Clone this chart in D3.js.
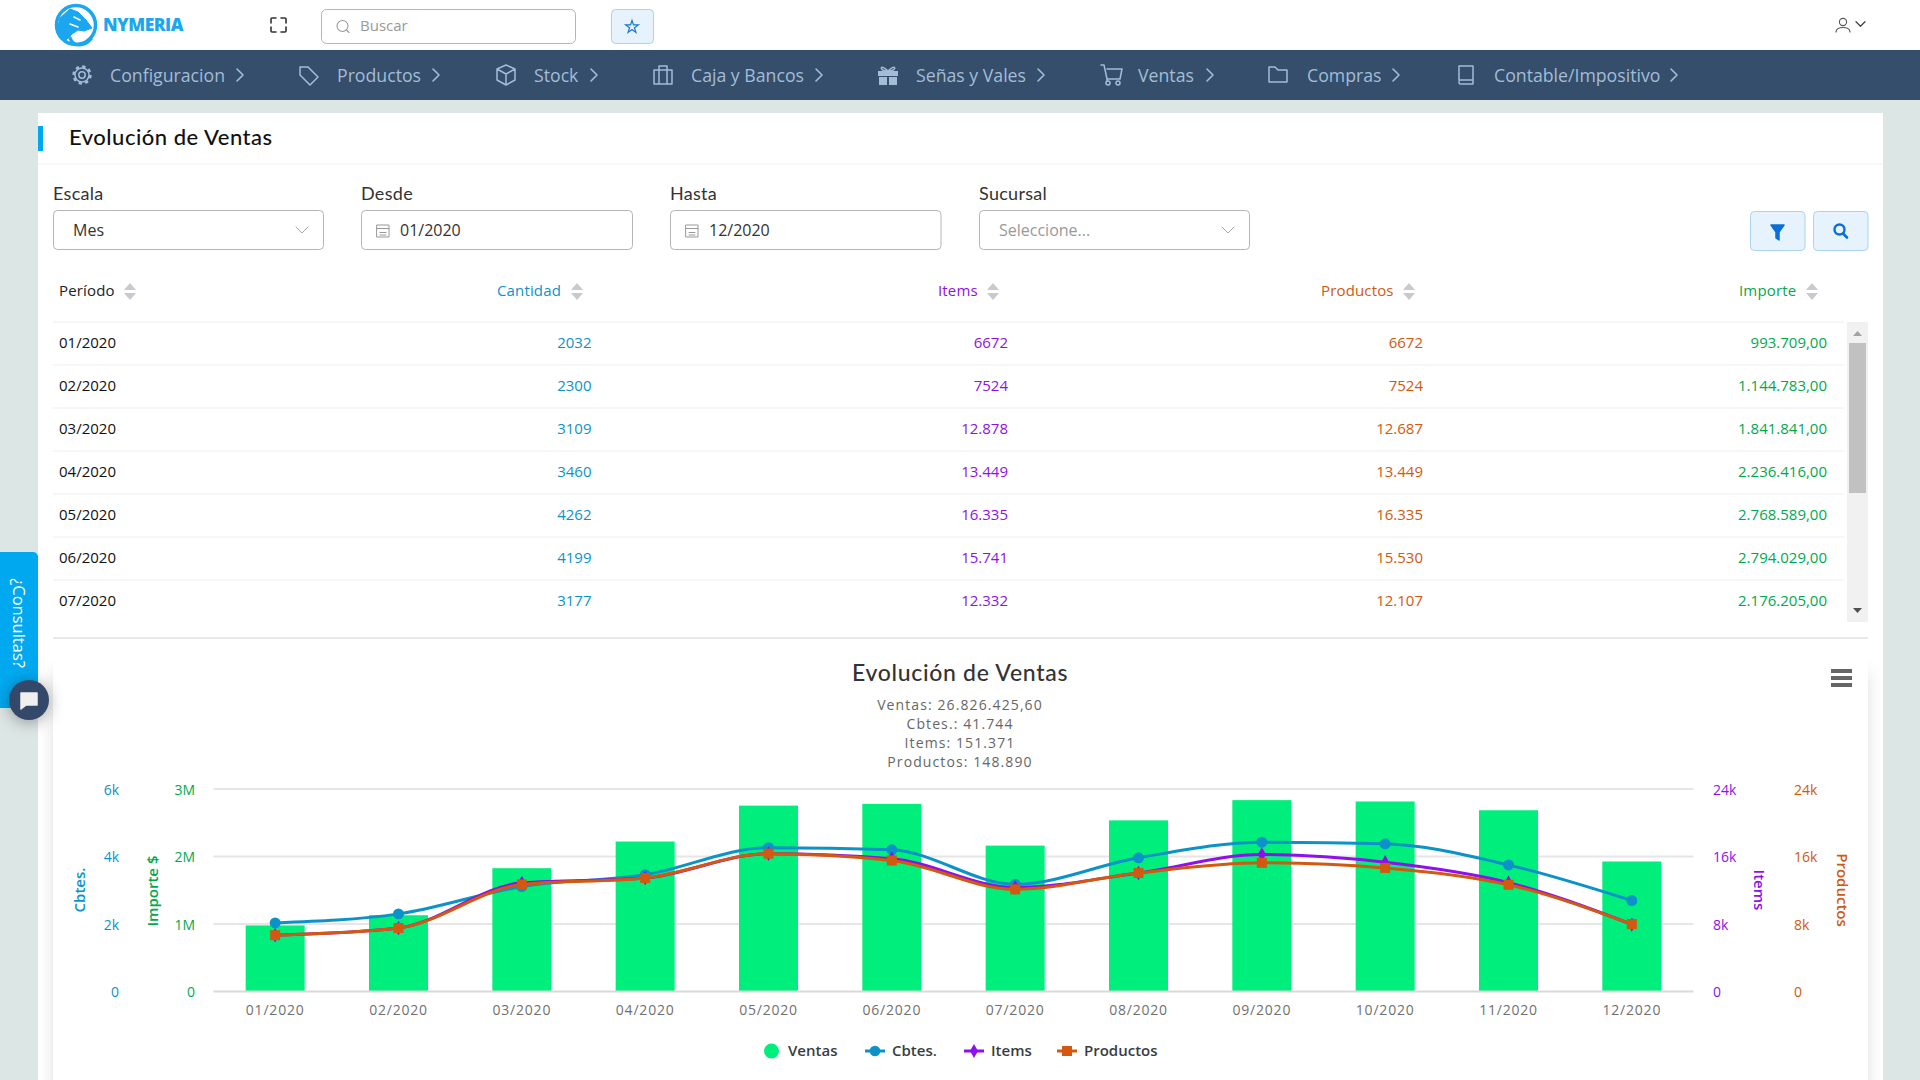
<!DOCTYPE html>
<html>
<head>
<meta charset="utf-8">
<script src="https://cdn.jsdelivr.net/npm/d3@7/dist/d3.min.js"></script>
<style>
html, body { margin:0; padding:0; background:#dce6e5; overflow:hidden; }
svg { display:block; }
text { font-family:"Open Sans", sans-serif; }
.eje .domain, .eje line { display:none; }
</style>
</head>
<body>
<div id="pantalla"></div>
<script>
// Datos de la tabla y del grafico
var periodos = ["01/2020","02/2020","03/2020","04/2020","05/2020","06/2020","07/2020","08/2020","09/2020","10/2020","11/2020","12/2020"];
var ventas = [993709,1144783,1841841,2236416,2768589,2794029,2176205,2550000,2850000,2830000,2700000,1940853.6];
var cbtes = [2032,2300,3109,3460,4262,4199,3177,3960,4425,4375,3750,2695];
var items = [6672,7524,12878,13449,16335,15741,12332,14050,16230,15310,12900,7950];
var productos = [6672,7524,12687,13449,16335,15530,12107,14050,15250,14650,12650,7986];

var ticksVentas = [0,1000000,2000000,3000000];
var ticksCbtes = [0,2000,4000,6000];
var ticksItems = [0,8000,16000,24000];

var menuNav = ["Configuracion","Productos","Stock","Caja y Bancos","Señas y Vales","Ventas","Compras","Contable/Impositivo"];
var menuIconoX = [82,309,506,663,888,1111,1278,1466];
var menuTextoX = [110,337,534,691,916,1138,1307,1494];
var menuFlechaX = [240,436,594,819,1041,1210,1396,1674];

var colVentas = "#00ee7c", colImporte = "#00a94f", colCbtes = "#0b93c9", colItems = "#8f10ea", colProductos = "#d2590f";
var colNav = "#344e6b", colCeleste = "#00a9ef";

var loc = d3.formatLocale({decimal:",", thousands:".", grouping:[3], currency:["",""]});
var fmtMiles = loc.format(",d");
var fmtImporte = loc.format(",.2f");
function fmtCant(v){ return v < 10000 ? String(v) : fmtMiles(v); }

var svg = d3.select("#pantalla").append("svg").attr("width",1920).attr("height",1080);

function txt(x, y, s, o){
    o = o || {};
    var t = svg.append("text").attr("x",x).attr("y",y).attr("dy","0.36em").text(s)
        .attr("font-size",o.size || 15).attr("font-weight",o.weight || 400)
        .attr("fill",o.fill || "#222").attr("text-anchor",o.anchor || "start");
    if(o.family) t.style("font-family",o.family);
    if(o.spacing) t.attr("letter-spacing",o.spacing);
    if(o.rot) t.attr("transform","rotate("+o.rot+" "+x+" "+y+")");
    return t;
}
function caja(x, y, w, h, o){
    o = o || {};
    return svg.append("rect").attr("x",x).attr("y",y).attr("width",w).attr("height",h)
        .attr("rx",o.r || 0).attr("fill",o.fill || "#fff").attr("stroke",o.stroke || "none")
        .attr("stroke-width",o.sw || 1);
}
function trazo(d, col, sw, relleno){
    return svg.append("path").attr("d",d).attr("fill",relleno || "none").attr("stroke",col)
        .attr("stroke-width",sw || 1.5).attr("stroke-linecap","round").attr("stroke-linejoin","round");
}
function flecha(x, y, s, col, sw){ // chevron hacia abajo
    trazo("M"+(x-s)+","+(y-s/2)+"L"+x+","+(y+s/2)+"L"+(x+s)+","+(y-s/2), col, sw || 1);
}
function flechaDer(x, y, col){
    trazo("M"+(x-3)+","+(y-6)+"L"+(x+3)+","+y+"L"+(x-3)+","+(y+6), col, 1.6);
}

// ---------- barra superior ----------
caja(0,0,1920,50);
// logo
svg.append("circle").attr("cx",76).attr("cy",25).attr("r",19.5).attr("fill","none").attr("stroke","#1aa7f0").attr("stroke-width",3.5);
trazo("M57,30L60,18L70,9L78,12L86,20L92,28L84,31L78,30L72,34L66,40L60,38Z","#1aa7f0",1,"#1aa7f0");
trazo("M74,17L80,20M70,24L78,27","#fff",1.6);
trazo("M70,38C73,47 84,47 91,39","#1aa7f0",3.4);
txt(103,25,"NYMERIA",{size:17.5,weight:800,fill:"#1aa7f0",spacing:-0.5});
trazo("M271,23V19Q271,18 272,18H276M281,18H285Q286,18 286,19V23M286,27V31Q286,32 285,32H281M276,32H272Q271,32 271,31V27","#333",1.6);
caja(321.5,9.5,254,34,{r:5,stroke:"#b5b5b5"});
svg.append("circle").attr("cx",342.5).attr("cy",26).attr("r",5.5).attr("fill","none").attr("stroke","#999").attr("stroke-width",1.1);
trazo("M346.5,30L349,32.5","#999",1.1);
txt(360,26,"Buscar",{size:15,fill:"#999"});
caja(611.5,9.5,42,34,{r:4,fill:"#e6f3fd",stroke:"#a9d3f0"});
svg.append("path").attr("d",d3.symbol(d3.symbolStar,50)).attr("transform","translate(632,27)").attr("fill","none").attr("stroke","#1b76d3").attr("stroke-width",1.2);
svg.append("circle").attr("cx",1843).attr("cy",22).attr("r",3.6).attr("fill","none").attr("stroke","#555").attr("stroke-width",1.1);
trazo("M1836,32C1836,26 1850,26 1850,32","#555",1.2);
flecha(1860.5,24,4.5,"#444",1.3);

// ---------- menu ----------
caja(0,50,1920,50,{fill:colNav});
var colMenu = "#a4bcd6";
menuNav.forEach(function(m,i){
    txt(menuTextoX[i],75.5,m,{size:17.7,fill:colMenu});
    flechaDer(menuFlechaX[i],75,colMenu);
});
function iconoMenu(i){
    var x = menuIconoX[i], y = 75, g = 1.5;
    if(i==0){
        svg.append("circle").attr("cx",x).attr("cy",y).attr("r",3.2).attr("fill","none").attr("stroke",colMenu).attr("stroke-width",g);
        svg.append("circle").attr("cx",x).attr("cy",y).attr("r",7).attr("fill","none").attr("stroke",colMenu).attr("stroke-width",g);
        svg.append("circle").attr("cx",x).attr("cy",y).attr("r",8.5).attr("fill","none").attr("stroke",colMenu).attr("stroke-width",2.4).attr("stroke-dasharray","3.3 3.37");
    }
    if(i==1) trazo("M"+(x-9)+","+(y-8)+"h8l10,10l-8,8l-10,-10Z",colMenu,g);
    if(i==2) trazo("M"+x+","+(y-10)+"l9,4v11l-9,5l-9,-5v-11ZM"+(x-9)+","+(y-6)+"l9,5l9,-5M"+x+","+(y-1)+"v11",colMenu,g);
    if(i==3) trazo("M"+(x-9)+","+(y-5)+"h18v14h-18ZM"+(x-4)+","+(y-5)+"v14M"+(x+4)+","+(y-5)+"v14M"+(x-4)+","+(y-5)+"v-4h8v4",colMenu,g);
    if(i==4){ caja(x-10,y-4,20,5,{fill:colMenu}); caja(x-9,y+2,8,8,{fill:colMenu}); caja(x+1,y+2,8,8,{fill:colMenu});
        trazo("M"+x+","+(y-4)+"C"+(x-9)+","+(y-13)+" "+(x-9)+","+(y-3)+" "+x+","+(y-4)+"C"+(x+9)+","+(y-13)+" "+(x+9)+","+(y-3)+" "+x+","+(y-4),colMenu,g); }
    if(i==5){ trazo("M"+(x-10)+","+(y-10)+"h3l3,14h13l2,-10h-15M"+(x-4)+","+(y+4)+"v2",colMenu,g);
        svg.append("circle").attr("cx",x-3).attr("cy",y+8).attr("r",2).attr("fill","none").attr("stroke",colMenu).attr("stroke-width",g);
        svg.append("circle").attr("cx",x+7).attr("cy",y+8).attr("r",2).attr("fill","none").attr("stroke",colMenu).attr("stroke-width",g); }
    if(i==6) trazo("M"+(x-9)+","+(y-8)+"h6l3,3h9v12h-18Z",colMenu,g);
    if(i==7) trazo("M"+(x-7)+","+(y+5)+"V"+(y-9)+"h14V"+(y+9)+"h-13q-1,0 -1,-2t1,-2h13",colMenu,g);
}
menuNav.forEach(function(m,i){ iconoMenu(i); });

// ---------- tarjeta ----------
caja(38,113,1845,967);
caja(38,126,5,25,{fill:colCeleste});
svg.append("line").attr("x1",38).attr("x2",1883).attr("y1",164).attr("y2",164).attr("stroke","#eef0f0");
txt(69,137.5,"Evolución de Ventas",{size:22,weight:500,fill:"#111",family:"Lato",spacing:.5});

var campos = [
    {label:"Escala",x:53,w:270,valor:"Mes",icono:false},
    {label:"Desde",x:361,w:271,valor:"01/2020",icono:true},
    {label:"Hasta",x:670,w:270.5,valor:"12/2020",icono:true},
    {label:"Sucursal",x:979,w:270,valor:"Seleccione...",icono:false}
];
campos.forEach(function(c){
    txt(c.x,194,c.label,{size:18,fill:"#333",family:"Lato",spacing:.3});
    caja(c.x+.5,210.5,c.w,39,{r:4,stroke:"#b5b5b5"});
    if(c.icono){
        trazo("M"+(c.x+16)+",225h12v12h-12ZM"+(c.x+16)+",228.5h12M"+(c.x+19)+",232.5h6M"+(c.x+19)+",235h6","#999",1);
        txt(c.x+39,230,c.valor,{size:16,fill:"#333"});
    } else {
        txt(c.x+20,230,c.valor,{size:16,fill:c.label=="Sucursal" ? "#999" : "#333"});
        flecha(c.x+c.w-21,230,6,"#aaa",1);
    }
});
caja(1750.5,211.5,54.5,39,{r:4,fill:"#e6f3fd",stroke:"#a9d3f0"});
caja(1813.5,211.5,54.5,39,{r:4,fill:"#e6f3fd",stroke:"#a9d3f0"});
trazo("M1771,225h13l-5,7v8l-3,-2v-6Z","#0a6fd6",1.5,"#0a6fd6");
svg.append("circle").attr("cx",1839.5).attr("cy",229.5).attr("r",5).attr("fill","none").attr("stroke","#0a6fd6").attr("stroke-width",2.4);
trazo("M1843.5,234L1847,237.5","#0a6fd6",2.6);

// ---------- tabla ----------
var columnas = [
    {titulo:"Período",x:59,orden:130,col:"#222"},
    {titulo:"Cantidad",x:497,orden:577,fin:591.5,col:colCbtes,datos:cbtes,fmt:fmtCant},
    {titulo:"Items",x:938,orden:993,fin:1008,col:colItems,datos:items,fmt:fmtCant},
    {titulo:"Productos",x:1321,orden:1409,fin:1423,col:colProductos,datos:productos,fmt:fmtCant},
    {titulo:"Importe",x:1739,orden:1812,fin:1827,col:colImporte,datos:ventas,fmt:fmtImporte}
];
columnas.forEach(function(c){
    txt(c.x,291,c.titulo,{size:15,weight:500,fill:c.col,spacing:.15});
    svg.append("path").attr("d","M"+(c.orden-6)+",290l6,-7l6,7ZM"+(c.orden-6)+",293l6,7l6,-7Z").attr("fill","#c9c9ce");
});
var filaY = d3.scaleLinear().domain([0,1]).range([343,386]);
d3.range(7).forEach(function(i){
    svg.append("line").attr("x1",53).attr("x2",1844).attr("y1",filaY(i)-21).attr("y2",filaY(i)-21).attr("stroke","#eeeeee");
    txt(59,filaY(i),periodos[i],{size:15,weight:500,fill:"#111"});
    columnas.slice(1).forEach(function(c){
        txt(c.fin,filaY(i),c.fmt(c.datos[i]),{size:15,weight:500,fill:c.col,anchor:"end"});
    });
});
caja(1847,322,21,300,{fill:"#f1f1f1"});
caja(1849,343,17,150,{fill:"#c1c1c1"});
svg.append("path").attr("d","M1853,336l4.5,-5l4.5,5Z").attr("fill","#a3a3a3");
svg.append("path").attr("d","M1853,608l4.5,5l4.5,-5Z").attr("fill","#505050");
svg.append("line").attr("x1",53).attr("x2",1868).attr("y1",638).attr("y2",638).attr("stroke","#e9e9e9").attr("stroke-width",2);

// ---------- bloque del grafico ----------
svg.append("defs").append("filter").attr("id","sombra").attr("x","-5%").attr("y","-10%").attr("width","110%").attr("height","120%")
    .append("feDropShadow").attr("dx",0).attr("dy",0).attr("stdDeviation",8).attr("flood-color","#000").attr("flood-opacity",.12);
caja(53,672,1815,450).attr("filter","url(#sombra)");
caja(53,640,1815,60);

txt(960,673,"Evolución de Ventas",{size:23,weight:500,fill:"#333",anchor:"middle",family:"Lato",spacing:.7});
var resumen = [
    "Ventas: "+fmtImporte(d3.sum(ventas)),
    "Cbtes.: "+fmtMiles(d3.sum(cbtes)),
    "Items: "+fmtMiles(d3.sum(items)),
    "Productos: "+fmtMiles(d3.sum(productos))
];
resumen.forEach(function(r,i){
    txt(960,704.5+i*19,r,{size:14,fill:"#666",anchor:"middle",spacing:1.1});
});
svg.append("path").attr("d","M1831,669h21v4h-21ZM1831,676h21v4h-21ZM1831,683h21v4h-21Z").attr("fill","#666");

var margen = {izq:213.5, der:1693.5, arriba:789, abajo:991.5};
var x = d3.scaleBand().domain(periodos).range([margen.izq,margen.der]);
var yVentas = d3.scaleLinear().domain([0,3000000]).range([margen.abajo,margen.arriba]);
var yCbtes = d3.scaleLinear().domain([0,6000]).range([margen.abajo,margen.arriba]);
var yItems = d3.scaleLinear().domain([0,24000]).range([margen.abajo,margen.arriba]);
var fmtK = function(v){ return v==0 ? "0" : (v/1000)+"k"; };
var fmtM = function(v){ return v==0 ? "0" : (v/1000000)+"M"; };

function lineaGrilla(d, col){
    svg.append("line").attr("x1",margen.izq).attr("x2",margen.der)
        .attr("y1",yVentas(d)).attr("y2",yVentas(d)).attr("stroke",col).attr("stroke-width",2);
}
ticksVentas.filter(function(d){ return d>0; }).forEach(function(d){ lineaGrilla(d,"#e6e6e6"); });

svg.append("g").selectAll("rect").data(periodos).enter().append("rect")
    .attr("x",function(d){ return x(d)+x.bandwidth()/2-29.5; })
    .attr("width",59)
    .attr("y",function(d,i){ return yVentas(ventas[i])+1; })
    .attr("height",function(d,i){ return margen.abajo-yVentas(ventas[i])-1; })
    .attr("fill",colVentas);
lineaGrilla(0,"#d9d9d9");

function ejeY(gen, posX, col){
    var g = svg.append("g").attr("class","eje").attr("transform","translate("+posX+",1)").call(gen);
    g.selectAll("text").attr("fill",col).style("font-size","14px").style("font-family","Open Sans");
}
ejeY(d3.axisLeft(yCbtes).tickValues(ticksCbtes).tickFormat(fmtK).tickSize(0).tickPadding(0),119,colCbtes);
ejeY(d3.axisLeft(yVentas).tickValues(ticksVentas).tickFormat(fmtM).tickSize(0).tickPadding(0),195,colImporte);
ejeY(d3.axisRight(yItems).tickValues(ticksItems).tickFormat(fmtK).tickSize(0).tickPadding(0),1713,colItems);
ejeY(d3.axisRight(yItems).tickValues(ticksItems).tickFormat(fmtK).tickSize(0).tickPadding(0),1794,colProductos);

var ejeX = svg.append("g").attr("class","eje").attr("transform","translate(0,"+margen.abajo+")")
    .call(d3.axisBottom(x).tickSize(0).tickPadding(14));
ejeX.selectAll("text").attr("fill","#707070").style("font-size","14px").style("font-family","Open Sans").attr("letter-spacing",.8);

txt(80,890,"Cbtes.",{size:15,weight:600,fill:colCbtes,anchor:"middle",rot:-90});
txt(152.5,891,"Importe $",{size:15,weight:600,fill:colImporte,anchor:"middle",rot:-90});
txt(1759,890,"Items",{size:15,weight:600,fill:colItems,anchor:"middle",rot:90});
txt(1842,890,"Productos",{size:15,weight:600,fill:colProductos,anchor:"middle",rot:90});

var series = [
    {datos:cbtes, y:yCbtes, col:colCbtes, tipo:d3.symbolCircle, area:95},
    {datos:items, y:yItems, col:colItems, tipo:d3.symbolDiamond, area:60},
    {datos:productos, y:yItems, col:colProductos, tipo:d3.symbolSquare, area:100}
];
series.forEach(function(s){
    var linea = d3.line()
        .x(function(d,i){ return x(periodos[i])+x.bandwidth()/2; })
        .y(function(d){ return s.y(d); })
        .curve(d3.curveMonotoneX);
    svg.append("path").datum(s.datos).attr("d",linea).attr("fill","none").attr("stroke",s.col).attr("stroke-width",3);
});
series.forEach(function(s){
    svg.append("g").selectAll("path").data(s.datos).enter().append("path")
        .attr("d",d3.symbol(s.tipo,s.area))
        .attr("transform",function(d,i){ return "translate("+(x(periodos[i])+x.bandwidth()/2)+","+s.y(d)+")"; })
        .attr("fill",s.col);
});

// leyenda
var leyenda = [
    {nombre:"Ventas",mx:771.5,tx:788,col:colVentas},
    {nombre:"Cbtes.",mx:875,tx:892,col:colCbtes,tipo:d3.symbolCircle,area:90},
    {nombre:"Items",mx:974,tx:991,col:colItems,tipo:d3.symbolDiamond,area:55},
    {nombre:"Productos",mx:1067,tx:1084,col:colProductos,tipo:d3.symbolSquare,area:100}
];
leyenda.forEach(function(l){
    if(l.tipo){
        svg.append("line").attr("x1",l.mx-10).attr("x2",l.mx+10).attr("y1",1051).attr("y2",1051).attr("stroke",l.col).attr("stroke-width",3);
        svg.append("path").attr("d",d3.symbol(l.tipo,l.area)).attr("transform","translate("+l.mx+",1051)").attr("fill",l.col);
    } else {
        svg.append("circle").attr("cx",l.mx).attr("cy",1051).attr("r",7.5).attr("fill",l.col);
    }
    txt(l.tx,1051,l.nombre,{size:15,weight:600,fill:"#3a3d3f"});
});

// ---------- consultas ----------
caja(-6,552,44,156,{r:5,fill:colCeleste});
txt(19,623,"¿Consultas?",{size:16.5,fill:"#fff",anchor:"middle",rot:90});
svg.append("circle").attr("cx",29).attr("cy",700).attr("r",20).attr("fill","#34496a").style("filter","drop-shadow(0 2px 8px rgba(0,0,0,.35))");
trazo("M21,693h16v12h-11l-5,4Z","#f0f0f0",1.5,"#f0f0f0");
</script>
</body>
</html>
